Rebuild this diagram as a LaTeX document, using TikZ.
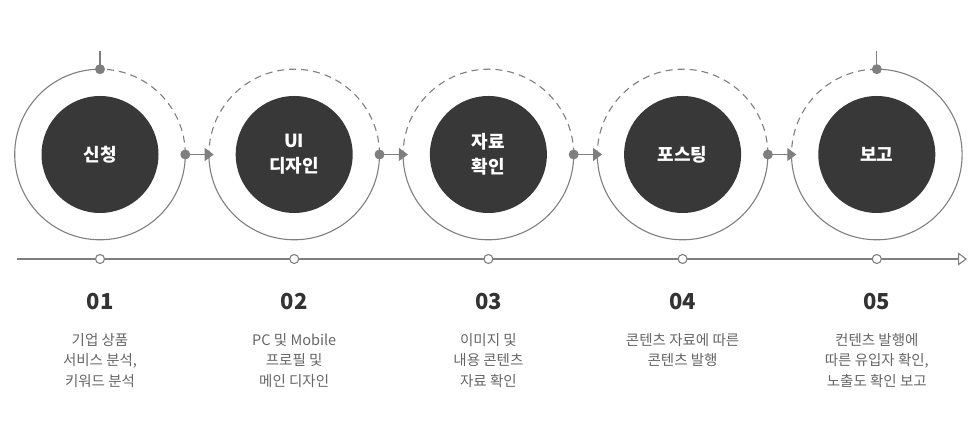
\documentclass[tikz,border=0pt]{standalone}
\usepackage{fontspec}
\setmainfont{Noto Sans CJK KR}
\usetikzlibrary{arrows.meta,calc}
\definecolor{lineGray}{HTML}{7F7F7F}
\definecolor{darkFill}{HTML}{383838}
\definecolor{numText}{HTML}{333333}
\definecolor{descText}{HTML}{666666}
\tikzset{
    stepCircle/.style={circle, fill=darkFill, minimum size=117pt, inner sep=0pt,
        text=white, font=\fontsize{18}{25}\selectfont\bfseries, align=center},
    dashArc/.style={draw=lineGray, line width=1.1pt, dash pattern=on 7pt off 5pt},
    solidArc/.style={draw=lineGray, line width=1.1pt},
    stepNum/.style={text=numText, font=\fontsize{22}{26}\selectfont\bfseries},
    stepDesc/.style={text=descText, font=\fontsize{14.5}{20.5}\selectfont, align=center, anchor=north, inner sep=0pt},
    flow/.style={draw=lineGray, line width=1.1pt, -{Triangle[length=9pt, width=13pt]}},
}

\begin{document}
\begin{tikzpicture}[x=1pt, y=1pt]
    \useasboundingbox (0,0) rectangle (980,443);

    % dark circles
    \node[stepCircle] (s1) at (100,288.5)   {신청};
    \node[stepCircle] (s2) at (294.2,288.5) {UI\\디자인};
    \node[stepCircle] (s3) at (488.4,288.5) {자료\\확인};
    \node[stepCircle] (s4) at (682.6,288.5) {포스팅};
    \node[stepCircle] (s5) at (876.8,288.5) {보고};

    % outer rings
    \draw[solidArc] (s1.center) ++(90:85.3) arc[start angle=90, end angle=360, radius=85.3];
    \draw[dashArc]  (s1.center) ++(0:85.3) arc[start angle=0, end angle=90, radius=85.3];
    \foreach \s in {s2,s3,s4} {
        \draw[solidArc] (\s.center) ++(180:85.3) arc[start angle=180, end angle=360, radius=85.3];
        \draw[dashArc]  (\s.center) ++(0:85.3) arc[start angle=0, end angle=180, radius=85.3];
    }
    \draw[solidArc] (s5.center) ++(180:85.3) arc[start angle=180, end angle=450, radius=85.3];
    \draw[dashArc]  (s5.center) ++(90:85.3) arc[start angle=90, end angle=180, radius=85.3];

    % ring points
    \foreach \s in {s1,s2,s3,s4,s5} {
        \coordinate (\s r) at ($(\s.center)+(85.3,0)$);
        \coordinate (\s l) at ($(\s.center)+(-80.5,0)$);
        \coordinate (\s t) at ($(\s.center)+(0,85.3)$);
        \coordinate (\s b) at ($(\s.center)+(0,-104.5)$);
    }
    \coordinate (pin1) at ($(s1t)+(0,18)$);
    \coordinate (pin5) at ($(s5t)+(0,18)$);
    \draw[solidArc] (s1t) -- (pin1);
    \draw[solidArc] (s5t) -- (pin5);
    \fill[lineGray] (s1t) circle (5pt);
    \fill[lineGray] (s5t) circle (5pt);

    % arrows between steps
    \draw[flow] (s1r) -- (s2l);
    \draw[flow] (s2r) -- (s3l);
    \draw[flow] (s3r) -- (s4l);
    \draw[flow] (s4r) -- (s5l);
    \foreach \s in {s1,s2,s3,s4} \fill[lineGray] (\s r) circle (5pt);

    % timeline
    \coordinate (tStart) at (17,184);
    \coordinate (tEnd) at (967,184);
    \draw[draw=lineGray, line width=1.1pt, -{Triangle[open, length=9pt, width=13pt]}] (tStart) -- (tEnd);
    \foreach \s in {s1,s2,s3,s4,s5}
        \draw[lineGray, line width=1.1pt, fill=white] (\s b) circle (4.5pt);

    % numbers and texts
    \node[stepNum] (n1) at ($(s1b)+(0,-42.5)$) {01};
    \node[stepNum] (n2) at ($(s2b)+(0,-42.5)$) {02};
    \node[stepNum] (n3) at ($(s3b)+(0,-42.5)$) {03};
    \node[stepNum] (n4) at ($(s4b)+(0,-42.5)$) {04};
    \node[stepNum] (n5) at ($(s5b)+(0,-42.5)$) {05};
    \node[stepDesc] (d1) at ($(s1b)+(0,-74)$) {기업 상품\\서비스 분석,\\키워드 분석};
    \node[stepDesc] (d2) at ($(s2b)+(0,-74)$) {PC 및 Mobile\\프로필 및\\메인 디자인};
    \node[stepDesc] (d3) at ($(s3b)+(0,-74)$) {이미지 및\\내용 콘텐츠\\자료 확인};
    \node[stepDesc] (d4) at ($(s4b)+(0,-74)$) {콘텐츠 자료에 따른\\콘텐츠 발행};
    \node[stepDesc] (d5) at ($(s5b)+(0,-74)$) {컨텐츠 발행에\\따른 유입자 확인,\\노출도 확인 보고};
\end{tikzpicture}
\end{document}
